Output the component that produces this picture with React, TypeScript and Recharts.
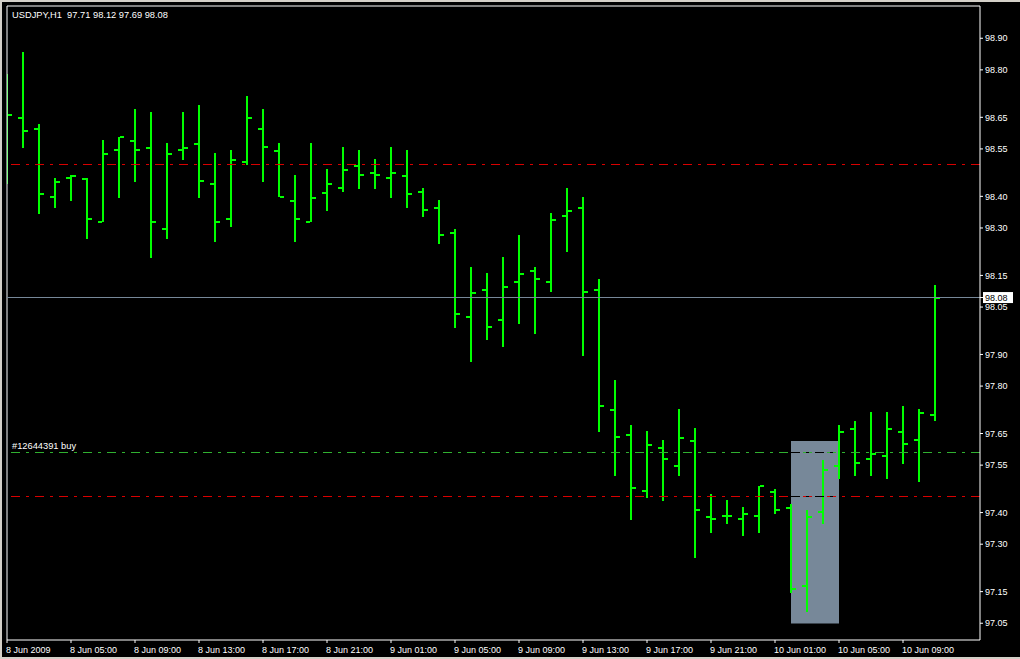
import React from 'react';
import { ComposedChart, Bar, XAxis, YAxis, ReferenceLine, ReferenceArea } from 'recharts';

// ---- data ----
const barIndex = Array.from({ length: 59 }, (_, i) => i);
const opens = [
  98.64, 98.647, 98.614, 98.399, 98.459, 98.455, 98.32, 98.547, 98.576, 98.554,
  98.297, 98.548, 98.566, 98.438, 98.329, 98.51, 98.614, 98.545, 98.386, 98.32,
  98.41, 98.428, 98.497, 98.475, 98.459, 98.465, 98.415, 98.364, 98.285, 98.02,
  98.105, 98.01, 98.13, 98.165, 98.13, 98.339, 98.364, 98.105, 97.725, 97.646,
  97.469, 97.605, 97.548, 97.627, 97.387, 97.39, 97.381, 97.39, 97.466, 97.415,
  97.169, 97.402, 97.548, 97.665, 97.57, 97.58, 97.656, 97.631, 97.71,
];
const highs = [
  98.787, 98.858, 98.629, 98.457, 98.468, 98.457, 98.578, 98.588, 98.676, 98.666,
  98.568, 98.666, 98.688, 98.536, 98.547, 98.718, 98.676, 98.568, 98.468, 98.568,
  98.487, 98.556, 98.547, 98.518, 98.556, 98.547, 98.427, 98.389, 98.296, 98.177,
  98.158, 98.208, 98.278, 98.177, 98.347, 98.427, 98.398, 98.138, 97.819, 97.677,
  97.658, 97.63, 97.728, 97.668, 97.459, 97.44, 97.417, 97.485, 97.476, 97.427,
  97.408, 97.567, 97.677, 97.69, 97.718, 97.718, 97.737, 97.728, 98.12,
];
const lows = [
  98.439, 98.554, 98.345, 98.364, 98.385, 98.265, 98.32, 98.396, 98.446, 98.206,
  98.265, 98.515, 98.396, 98.257, 98.304, 98.498, 98.446, 98.398, 98.257, 98.32,
  98.355, 98.415, 98.424, 98.424, 98.396, 98.364, 98.336, 98.249, 97.985, 97.877,
  97.947, 97.925, 97.997, 97.966, 98.097, 98.225, 97.896, 97.656, 97.517, 97.378,
  97.447, 97.438, 97.517, 97.257, 97.336, 97.365, 97.327, 97.336, 97.397, 97.147,
  97.087, 97.365, 97.507, 97.517, 97.517, 97.507, 97.555, 97.498, 97.69,
];
const closes = [
  98.658, 98.608, 98.409, 98.446, 98.465, 98.329, 98.534, 98.587, 98.547, 98.32,
  98.534, 98.554, 98.449, 98.32, 98.515, 98.647, 98.557, 98.398, 98.329, 98.396,
  98.438, 98.484, 98.469, 98.469, 98.475, 98.409, 98.358, 98.279, 98.029, 98.095,
  97.988, 98.114, 98.156, 98.14, 98.326, 98.355, 98.099, 97.738, 97.64, 97.479,
  97.615, 97.57, 97.637, 97.409, 97.381, 97.39, 97.397, 97.485, 97.408, 97.159,
  97.387, 97.536, 97.656, 97.558, 97.586, 97.665, 97.618, 97.716, 98.08,
];
const xTickIndex = [0, 4, 8, 12, 16, 20, 24, 28, 32, 36, 40, 44, 48, 52, 56];
const xTickLabels = [
  '8 Jun 2009', '8 Jun 05:00', '8 Jun 09:00', '8 Jun 13:00', '8 Jun 17:00', '8 Jun 21:00',
  '9 Jun 01:00', '9 Jun 05:00', '9 Jun 09:00', '9 Jun 13:00', '9 Jun 17:00', '9 Jun 21:00',
  '10 Jun 01:00', '10 Jun 05:00', '10 Jun 09:00',
];
const yTicks = [98.9, 98.8, 98.65, 98.55, 98.4, 98.3, 98.15, 98.08, 98.05, 97.9, 97.8, 97.65, 97.55, 97.4, 97.3, 97.15, 97.05];
const bidPrice = 98.08;
const takeProfit = 98.5;
const orderPrice = 97.59;
const stopLoss = 97.45;
const boxBars = [49, 52];
const boxPrices = [97.049, 97.626];
const title = 'USDJPY,H1  97.71 98.12 97.69 98.08';
const orderLabel = '#12644391 buy';

const xDomain = [0, 60.8125];
const yDomain = [96.997, 99.002];

const data = barIndex.map((i) => ({
  i,
  open: opens[i],
  high: highs[i],
  low: lows[i],
  close: closes[i],
}));

// ---- styles ----
const BAR = '#00ff00';
const RED = '#d80000';
const GREEN = '#30b030';
const FONT = "'Liberation Sans', Arial, sans-serif";
const DASH = '9 6 3 6';

const OhlcShape = (props: any) => {
  const { x, y, width, height, payload } = props;
  if (x == null || y == null || !payload) return null;
  const top = Math.min(y, y + height);
  const h = Math.abs(height);
  const cx = Math.round(x + width / 2);
  const range = payload.high - payload.low;
  const k = range > 0 ? h / range : 0;
  const yo = top + (payload.high - payload.open) * k;
  const yc = top + (payload.high - payload.close) * k;
  return (
    <g shapeRendering="crispEdges">
      <rect x={cx - 1} y={top} width={2} height={Math.max(h, 1)} fill={BAR} />
      <rect x={cx - 5} y={yo - 1} width={4} height={2} fill={BAR} />
      <rect x={cx + 1} y={yc - 1} width={4} height={2} fill={BAR} />
    </g>
  );
};

const XTick = (props: any) => {
  const { x, y, payload } = props;
  const idx = xTickIndex.indexOf(payload.value);
  return (
    <text x={x - 1} y={y + 8} fill="#ffffff" fontSize={9} fontFamily={FONT} textAnchor="start">
      {idx >= 0 ? xTickLabels[idx] : ''}
    </text>
  );
};

const YTick = (props: any) => {
  const { x, y, payload } = props;
  const v = payload.value as number;
  const label = v.toFixed(2);
  if (Math.abs(v - bidPrice) < 1e-9) {
    return (
      <g>
        <rect x={x - 2} y={y - 5.5} width={30} height={11} fill="#ffffff" />
        <text x={x} y={y} dy="0.36em" fill="#000000" fontSize={9} fontFamily={FONT} textAnchor="start">
          {label}
        </text>
      </g>
    );
  }
  return (
    <text x={x} y={y} dy="0.36em" fill="#ffffff" fontSize={9} fontFamily={FONT} textAnchor="start">
      {label}
    </text>
  );
};

const OrderLabel = (props: any) => {
  const vb = props.viewBox || {};
  return (
    <text x={(vb.x || 0) + 5} y={(vb.y || 0) - 3} fill="#ffffff" fontSize={9.3} fontFamily={FONT}>
      {orderLabel}
    </text>
  );
};

export default function App() {
  return (
    <div style={{ position: 'absolute', left: 0, top: 0, width: 1020, height: 659, background: '#d4d0c8' }}>
      <div style={{ position: 'absolute', left: 2, top: 2, width: 1018, height: 655, background: '#000' }} />
      <div style={{ position: 'absolute', left: 0, top: 0 }}>
        <ComposedChart
          width={1020}
          height={659}
          data={data}
          margin={{ top: 6, left: 7, right: 0, bottom: 0 }}
        >
          <XAxis
            dataKey="i"
            type="number"
            domain={xDomain}
            allowDataOverflow
            ticks={xTickIndex}
            interval={0}
            height={19}
            tickSize={3}
            tickLine={{ stroke: '#ffffff' }}
            axisLine={{ stroke: '#ffffff' }}
            tick={<XTick />}
          />
          <YAxis
            orientation="right"
            type="number"
            domain={yDomain}
            allowDataOverflow
            ticks={yTicks}
            interval={0}
            width={40}
            tickSize={3}
            tickLine={{ stroke: '#ffffff' }}
            axisLine={{ stroke: '#ffffff' }}
            tick={<YTick />}
          />
          <ReferenceLine x={xDomain[0]} stroke="#ffffff" />
          <ReferenceLine y={yDomain[1]} stroke="#ffffff" />
          <ReferenceArea
            x1={boxBars[0]}
            x2={boxBars[1]}
            y1={boxPrices[0]}
            y2={boxPrices[1]}
            fill="#778899"
            fillOpacity={1}
            stroke="none"
          />
          <ReferenceLine y={takeProfit} stroke={RED} strokeDasharray={DASH} shapeRendering="crispEdges" />
          <ReferenceLine
            y={orderPrice}
            stroke={GREEN}
            strokeDasharray={DASH}
            shapeRendering="crispEdges"
            label={OrderLabel}
          />
          <ReferenceLine y={stopLoss} stroke={RED} strokeDasharray={DASH} shapeRendering="crispEdges" />
          <ReferenceLine
            segment={[{ x: boxBars[0], y: orderPrice }, { x: boxBars[1], y: orderPrice }]}
            stroke="#000000"
            strokeDasharray={DASH}
            shapeRendering="crispEdges"
          />
          <ReferenceLine
            segment={[{ x: boxBars[0], y: stopLoss }, { x: boxBars[1], y: stopLoss }]}
            stroke="#000000"
            strokeDasharray={DASH}
            shapeRendering="crispEdges"
          />
          <ReferenceLine y={bidPrice} stroke="#778899" shapeRendering="crispEdges" />
          <Bar
            dataKey={(d: any) => [d.low, d.high]}
            barSize={8}
            shape={<OhlcShape />}
            isAnimationActive={false}
          />
        </ComposedChart>
      </div>
      <div
        style={{
          position: 'absolute',
          left: 12,
          top: 10,
          color: '#ffffff',
          fontFamily: FONT,
          fontSize: 9.3,
          lineHeight: '10px',
          whiteSpace: 'pre',
        }}
      >
        {title}
      </div>
    </div>
  );
}
